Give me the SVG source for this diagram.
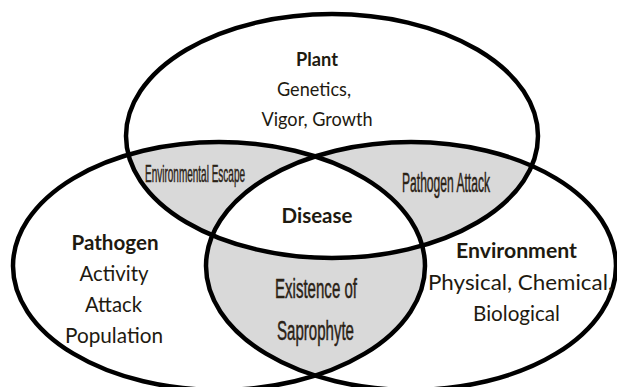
<svg xmlns="http://www.w3.org/2000/svg" width="617" height="387" viewBox="0 0 617 387">
  <style>
    .ring { fill: none; stroke: #000; stroke-width: 4.5; }
    .gray { fill: #d9d9d9; }
    .white { fill: #ffffff; }
    .t { font-family: Lato, "Open Sans", "DejaVu Sans", sans-serif; fill: #1e1a10; text-anchor: middle; }
    .b { font-weight: bold; }
    .c { font-family: "Liberation Sans", Arial, sans-serif; fill: #2a2216; stroke: #2a2216; stroke-width: 0.5; text-anchor: middle; }
  </style>
  <defs>
    <ellipse id="eP" cx="332" cy="136" rx="206" ry="122"/>
    <ellipse id="eL" cx="219" cy="266" rx="206" ry="124"/>
    <ellipse id="eR" cx="411" cy="266" rx="205" ry="124"/>
    <clipPath id="cP"><use href="#eP"/></clipPath>
    <clipPath id="cL"><use href="#eL"/></clipPath>
    <clipPath id="cR"><use href="#eR"/></clipPath>
  </defs>
  <rect width="617" height="387" fill="#ffffff"/>

  <g id="regions">
    <use href="#eL" class="gray" clip-path="url(#cP)"/>
    <use href="#eR" class="gray" clip-path="url(#cP)"/>
    <use href="#eR" class="gray" clip-path="url(#cL)"/>
    <g clip-path="url(#cP)">
      <use href="#eR" class="white" clip-path="url(#cL)"/>
    </g>
  </g>

  <g id="node-plant">
    <use href="#eP" class="ring"/>
    <text class="t b" x="317" y="66" font-size="19" textLength="42" lengthAdjust="spacingAndGlyphs">Plant</text>
    <text class="t" x="314" y="96" font-size="19" textLength="74" lengthAdjust="spacingAndGlyphs">Genetics,</text>
    <text class="t" x="317" y="125.5" font-size="19" textLength="111" lengthAdjust="spacingAndGlyphs">Vigor, Growth</text>
  </g>

  <g id="node-pathogen">
    <use href="#eL" class="ring"/>
    <text class="t b" x="115" y="250" font-size="21" textLength="87" lengthAdjust="spacingAndGlyphs">Pathogen</text>
    <text class="t" x="114" y="281" font-size="21" textLength="69" lengthAdjust="spacingAndGlyphs">Activity</text>
    <text class="t" x="113.5" y="312" font-size="21" textLength="57" lengthAdjust="spacingAndGlyphs">Attack</text>
    <text class="t" x="114" y="343" font-size="21" textLength="98" lengthAdjust="spacingAndGlyphs">Population</text>
  </g>

  <g id="node-environment">
    <use href="#eR" class="ring"/>
    <text class="t b" x="516.5" y="258" font-size="21" textLength="121" lengthAdjust="spacingAndGlyphs">Environment</text>
    <text class="t" x="520.5" y="290" font-size="21" textLength="185" lengthAdjust="spacingAndGlyphs">Physical, Chemical,</text>
    <text class="t" x="516.5" y="321" font-size="21" textLength="87" lengthAdjust="spacingAndGlyphs">Biological</text>
  </g>

  <g id="region-escape">
    <text class="c" x="195" y="182" font-size="24" textLength="100" lengthAdjust="spacingAndGlyphs">Environmental Escape</text>
  </g>
  <g id="region-attack">
    <text class="c" x="446" y="192" font-size="27" textLength="88" lengthAdjust="spacingAndGlyphs">Pathogen Attack</text>
  </g>
  <g id="region-disease">
    <text class="t b" x="317" y="223" font-size="21" textLength="71" lengthAdjust="spacingAndGlyphs">Disease</text>
  </g>
  <g id="region-saprophyte">
    <text class="c" x="316" y="298" font-size="27" textLength="82" lengthAdjust="spacingAndGlyphs">Existence of</text>
    <text class="c" x="315.5" y="340" font-size="27" textLength="77" lengthAdjust="spacingAndGlyphs">Saprophyte</text>
  </g>
</svg>
